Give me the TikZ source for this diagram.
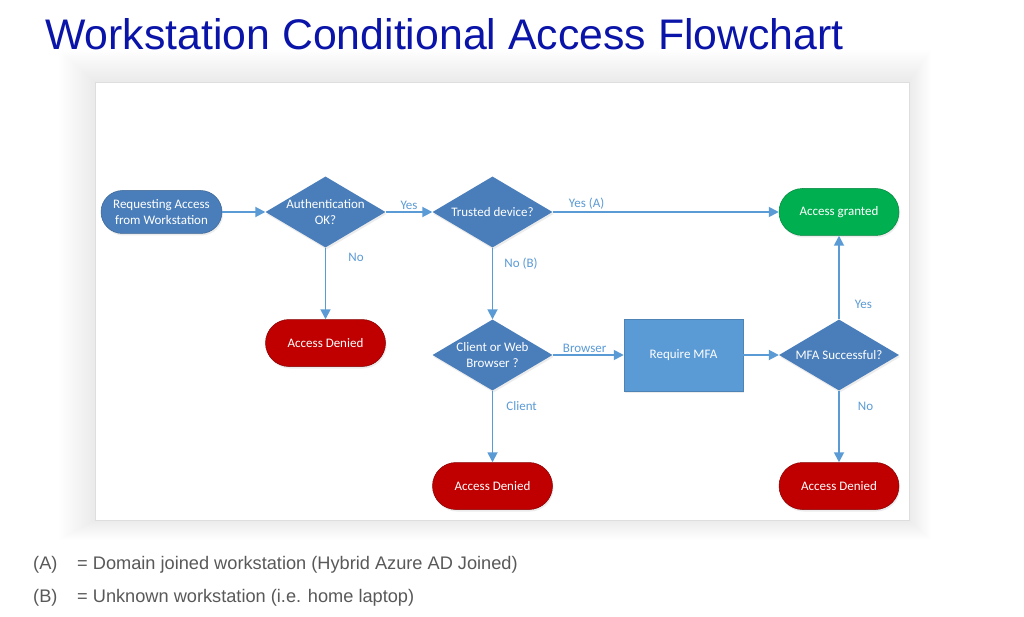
\documentclass[tikz,border=0pt]{standalone}
\usepackage{fontspec}
\setmainfont{Carlito}
\newfontfamily\arialf{Liberation Sans}
\usetikzlibrary{arrows.meta,shapes.geometric,shadows}
\definecolor{titleblue}{RGB}{10,20,168}
\definecolor{decblue}{RGB}{74,126,186}
\definecolor{procblue}{RGB}{91,155,213}
\definecolor{edgeblue}{RGB}{91,155,213}
\definecolor{okgreen}{RGB}{0,176,80}
\definecolor{nored}{RGB}{192,0,0}
\definecolor{notegray}{RGB}{89,89,89}
\definecolor{panelline}{RGB}{222,222,222}
\tikzset{
  nodetext/.style={text=white, font=\fontsize{13}{16.5}\selectfont, align=center},
  shad/.style={drop shadow={opacity=0.15, shadow xshift=1pt, shadow yshift=-2pt}},
  pill/.style={rectangle, rounded corners=23.5pt, minimum width=120pt, minimum height=47pt,
    inner sep=0pt, nodetext, shad},
  startpill/.style={pill, fill=decblue, draw=decblue!80!black, line width=0.5pt, minimum width=121pt, minimum height=43pt, rounded corners=21.5pt},
  grantpill/.style={pill, fill=okgreen, draw=okgreen!75!black, line width=0.5pt},
  denypill/.style={pill, fill=nored, draw=nored!70!black, line width=0.5pt},
  dec/.style={diamond, aspect=1.7, minimum width=120pt, minimum height=71pt, inner sep=0pt,
    fill=decblue, draw=none, shad},
  proc/.style={rectangle, minimum width=119pt, minimum height=72pt, inner sep=0pt,
    fill=procblue, draw=procblue!85!black, line width=0.5pt, nodetext, shad},
  flow/.style={draw=edgeblue, line width=1.8pt, -{Triangle[length=10pt,width=10pt]}},
  lbl/.style={text=edgeblue, font=\fontsize{13}{15}\selectfont, inner sep=1pt},
  note/.style={anchor=base west, inner sep=0pt, text=notegray, font=\arialf\fontsize{18.2}{22}\selectfont},
}
\begin{document}
\begin{tikzpicture}[x=1pt,y=-1pt]
\useasboundingbox (0,0) rectangle (1024,617);
\fill[white] (0,0) rectangle (1024,617);
% soft panel shadow
\foreach \i in {1,...,20}{
  \fill[black, opacity=0.0045] (95-1.8*\i,82-1.6*\i) rectangle (909+1.1*\i,520+1.0*\i);
}
\fill[white] (95,82) rectangle (909,520);
\draw[panelline, line width=0.8pt] (95,82) rectangle (909,520);

% title
\node[anchor=base west, inner sep=0pt, text=titleblue, font=\arialf\fontsize{42.8}{50}\selectfont] (title) at (45,50) {Workstation Conditional Access Flowchart};

% nodes
\node[startpill] (start) at (161.5,212) {Requesting Access\\from Workstation};
\node[dec] (auth) at (325.5,212) {};
\node[nodetext] (authT) at (auth.center) {Authentication\\OK?};
\node[dec] (trust) at (492.5,212) {};
\node[nodetext] (trustT) at (trust.center) {Trusted device?};
\node[grantpill] (grant) at (839,212) {Access granted};
\node[denypill] (deny1) at (325.5,343) {Access Denied};
\node[dec] (client) at (492.5,355) {};
\node[nodetext] (clientT) at (client.center) {Client or Web\\Browser ?};
\node[proc] (mfa) at (683.5,355) {Require MFA};
\node[dec] (mfaok) at (839,355) {};
\node[nodetext] (mfaokT) at (mfaok.center) {MFA Successful?};
\node[denypill] (deny2) at (492.5,486) {Access Denied};
\node[denypill] (deny3) at (839,486) {Access Denied};

% connectors
\draw[flow] (start.east) -- (auth.west);
\draw[flow] (auth.east) -- node[lbl, above, pos=0.5, yshift=1pt] (lyes1) {Yes} (trust.west);
\draw[flow] (trust.east) -- node[lbl, above, pos=0.15, yshift=1pt] (lyesA) {Yes (A)} (grant.west);
\draw[flow] (auth.south) -- node[lbl, anchor=west, pos=0.14, xshift=21pt] (lno1) {No} (deny1.north);
\draw[flow] (trust.south) -- node[lbl, anchor=west, pos=0.22, xshift=10pt] (lnoB) {No (B)} (client.north);
\draw[flow] (client.east) -- node[lbl, above, pos=0.45, yshift=1pt] (lbrow) {Browser} (mfa.west);
\draw[flow] (mfa.east) -- (mfaok.west);
\draw[flow] (mfaok.north) -- node[lbl, anchor=west, pos=0.18, xshift=14pt] (lyes2) {Yes} (grant.south);
\draw[flow] (mfaok.south) -- node[lbl, anchor=west, pos=0.22, xshift=17pt] (lno3) {No} (deny3.north);
\draw[flow] (client.south) -- node[lbl, anchor=west, pos=0.22, xshift=12pt] (lcli) {Client} (deny2.north);

% notes
\node[note] (nA) at (33,569) {(A)};
\node[note] (nAt) at (77,569) {= Domain joined workstation (Hybrid Azure AD Joined)};
\node[note] (nB) at (33,602) {(B)};
\node[note] (nBt) at (77,602) {= Unknown workstation (i.e. home laptop)};
\end{tikzpicture}
\end{document}
